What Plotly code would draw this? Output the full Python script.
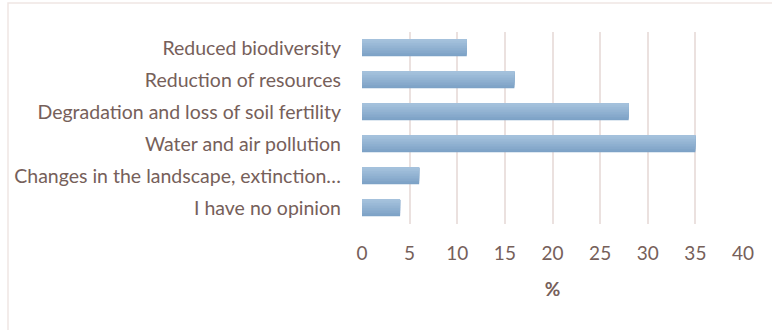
import plotly.graph_objects as go

categories = [
    "Reduced biodiversity",
    "Reduction of resources",
    "Degradation and loss of soil fertility",
    "Water and air pollution",
    "Changes in the landscape, extinction…",
    "I have no opinion",
]
values = [11, 16, 28, 35, 6, 4]
x_ticks = [0, 5, 10, 15, 20, 25, 30, 35, 40]
axis_title = "%"

TEXT = "#76605a"
GRID = "#ebe1df"
FONT = "Lato"

# gradient simulation: light top -> dark bottom
top_rgb = (164, 193, 220)
bot_rgb = (125, 162, 198)
N = 10
W = 0.52

fig = go.Figure()
for i in range(N):
    t = i / (N - 1)
    r = round(bot_rgb[0] + (top_rgb[0] - bot_rgb[0]) * t)
    g = round(bot_rgb[1] + (top_rgb[1] - bot_rgb[1]) * t)
    b = round(bot_rgb[2] + (top_rgb[2] - bot_rgb[2]) * t)
    w = W * (1 - i / N)
    fig.add_trace(go.Bar(
        x=values, y=categories, orientation="h",
        width=[w] * len(values), offset=[-W / 2] * len(values),
        marker=dict(color=f"rgb({r},{g},{b})", line=dict(width=0)),
        showlegend=False, hoverinfo="skip" if i else "x+y",
    ))

fig.update_layout(
    width=772, height=330,
    margin=dict(l=362, r=29, t=32, b=106),
    paper_bgcolor="white", plot_bgcolor="white",
    barmode="overlay",
    font=dict(family=FONT, size=19.5, color=TEXT),
    xaxis=dict(
        range=[0, 40], tickvals=x_ticks, showgrid=True, gridcolor=GRID, gridwidth=2,
        zeroline=False, showline=False, ticks="", ticklabelstandoff=16,
        tickfont=dict(size=19),
        title=dict(text=f"<b>{axis_title}</b>", standoff=19, font=dict(size=19, color=TEXT)),
    ),
    yaxis=dict(
        autorange="reversed", showgrid=False, zeroline=False, showline=False,
        ticks="", ticklabelstandoff=20,
    ),
    shapes=[dict(
        type="rect", xref="paper", yref="paper",
        x0=-354 / 381, x1=1.2, y0=-0.6, y1=1 + 29 / 192,
        line=dict(color="#efe6e4", width=1.5), fillcolor="rgba(0,0,0,0)", layer="below",
    )],
)

fig.write_html("out.html")
